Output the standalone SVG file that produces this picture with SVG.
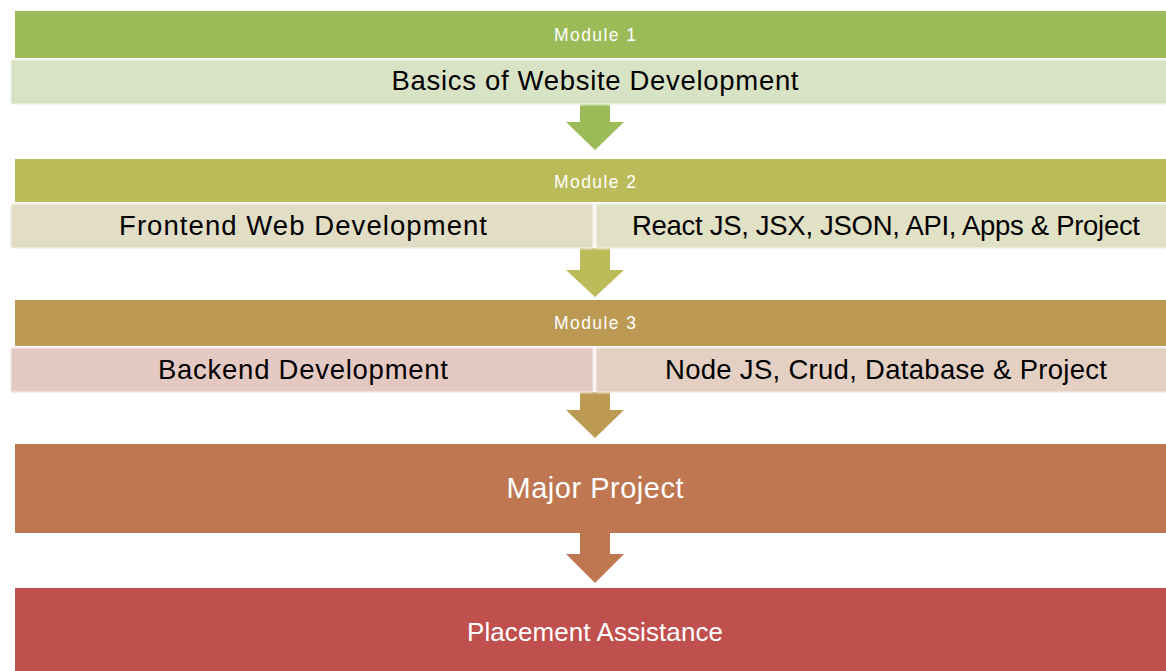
<svg xmlns="http://www.w3.org/2000/svg" width="1166" height="671" viewBox="0 0 1166 671">
<style>
.hdr{font-family:"Liberation Sans",Arial,sans-serif;font-size:17.5px;fill:#fff;text-anchor:middle}
.sub{font-family:"Liberation Sans",Arial,sans-serif;font-size:27.5px;fill:#000;text-anchor:middle}
.big{font-family:"Liberation Sans",Arial,sans-serif;font-size:28px;fill:#fff;text-anchor:middle}
.box{stroke:#fff;stroke-opacity:0.35;stroke-width:3}
</style>
<rect width="1166" height="671" fill="#fff"/>
<g id="connectors">
<path d="M580,104 H610 V122 H624 L595,150 L566,122 H580 Z" fill="#9BBB59"/>
<path d="M580,248 H610 V270 H624 L595,297 L566,270 H580 Z" fill="#BCBB5A"/>
<path d="M580,392 H610 V410 H624 L595,438 L566,410 H580 Z" fill="#BC9A53"/>
<path d="M580,531 H610 V554 H624 L595,583 L566,554 H580 Z" fill="#BE7751"/>
</g>
<g id="module1">
<rect x="15" y="11" width="1160" height="47" fill="#9BBB59"/>
<text class="hdr" x="595" y="41" textLength="82">Module 1</text>
</g>
<g id="basics">
<rect class="box" x="10.5" y="59.5" width="1165" height="45" rx="2" fill="#D8E3C5"/>
<text class="sub" x="595" y="90" textLength="407">Basics of Website Development</text>
</g>
<g id="module2">
<rect x="15" y="159" width="1160" height="43" fill="#BCBB5A"/>
<text class="hdr" x="595" y="188" textLength="82">Module 2</text>
</g>
<g id="frontend">
<rect class="box" x="10.5" y="203.5" width="583" height="45" rx="2" fill="#E2DDC5"/>
<text class="sub" x="303" y="235" textLength="368">Frontend Web Development</text>
</g>
<g id="react">
<rect class="box" x="595.5" y="203.5" width="580" height="45" rx="2" fill="#E0E1C5"/>
<text class="sub" x="886" y="235" textLength="508">React JS, JSX, JSON, API, Apps &amp; Project</text>
</g>
<g id="module3">
<rect x="15" y="300" width="1160" height="46" fill="#BC9A53"/>
<text class="hdr" x="595" y="329" textLength="82">Module 3</text>
</g>
<g id="backend">
<rect class="box" x="10.5" y="347.5" width="583" height="45" rx="2" fill="#E4C9C2"/>
<text class="sub" x="303" y="379" textLength="290">Backend Development</text>
</g>
<g id="node">
<rect class="box" x="595.5" y="347.5" width="580" height="45" rx="2" fill="#E3D0C3"/>
<text class="sub" x="886" y="379" textLength="442">Node JS, Crud, Database &amp; Project</text>
</g>
<g id="major">
<rect x="15" y="444" width="1160" height="89" fill="#BE7751"/>
<text class="big" x="595" y="498" style="font-size:29px" textLength="177">Major Project</text>
</g>
<g id="placement">
<rect x="15" y="588" width="1160" height="90" fill="#C0504D"/>
<text class="big" x="595" y="641" style="font-size:26px" textLength="256">Placement Assistance</text>
</g>
</svg>
